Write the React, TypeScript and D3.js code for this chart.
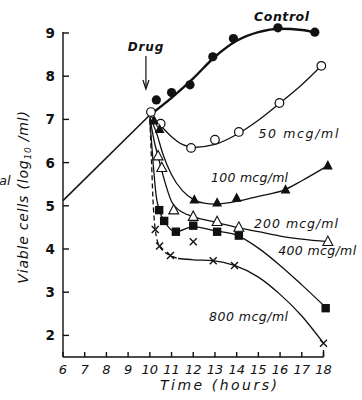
import * as d3 from "d3";
import React from "react";

// hours on x axis, log10 viable cells on y axis
const hourTicks = d3.range(6, 19);
const cellTicks = [2, 3, 4, 5, 6, 7, 8, 9];

// growth before drug
const growthLine: [number, number][] = [[6, 5.12], [10, 7.1]];

// smooth curves (as drawn in the figure)
const controlCurve: [number, number][] = [[10, 7.1], [11, 7.5], [12, 7.95], [13, 8.45], [14, 8.82], [15, 9.02], [16, 9.1], [17, 9.07], [17.6, 9.02]];
const curve50: [number, number][] = [[10, 7.1], [10.3, 6.95], [10.6, 6.8], [11, 6.6], [11.5, 6.42], [12, 6.35], [13, 6.42], [14, 6.65], [15, 6.98], [16, 7.38], [17, 7.8], [17.9, 8.24]];
const curve100: [number, number][] = [[10, 7.05], [10.3, 6.7], [10.6, 6.2], [11, 5.72], [11.5, 5.35], [12, 5.15], [12.5, 5.06], [13, 5.04], [14, 5.1], [15, 5.22], [16.2, 5.37], [17, 5.58], [18.2, 5.93]];
const curve200: [number, number][] = [[10, 7.05], [10.2, 6.5], [10.4, 6.1], [10.6, 5.72], [11, 5.1], [11.5, 4.85], [12, 4.75], [13, 4.62], [14, 4.5], [15, 4.4], [16, 4.3], [17, 4.23], [18.2, 4.17]];
const curve400: [number, number][] = [[10, 7.0], [10.15, 6.0], [10.3, 5.2], [10.45, 4.88], [10.7, 4.62], [11.2, 4.4], [12, 4.52], [13, 4.42], [14, 4.32], [15, 4.02], [16, 3.62], [17, 3.17], [18.1, 2.65]];
const curve800a: [number, number][] = [[10, 7.0], [10.08, 6.0], [10.14, 5.2], [10.25, 4.45], [10.45, 4.06], [10.95, 3.85], [11.3, 3.78]];
const curve800b: [number, number][] = [[11.3, 3.78], [12, 3.75], [12.9, 3.73], [13.9, 3.62], [15, 3.35], [16, 2.95], [17, 2.45], [18, 1.82]];

// measured points
const controlPts: [number, number][] = [[10.3, 7.45], [11, 7.62], [11.85, 7.8], [12.9, 8.45], [13.85, 8.87], [15.9, 9.12], [17.6, 9.02]];
const pts50: [number, number][] = [[10.05, 7.17], [10.5, 6.9], [11.9, 6.34], [13.0, 6.53], [14.1, 6.71], [15.97, 7.38], [17.9, 8.24]];
const pts100: [number, number][] = [[10.2, 6.97], [10.45, 6.77], [12.05, 5.14], [13.1, 5.07], [14.0, 5.18], [16.25, 5.37], [18.2, 5.93]];
const pts200: [number, number][] = [[10.38, 6.15], [10.55, 5.88], [11.1, 4.9], [12.0, 4.75], [13.1, 4.63], [14.1, 4.5], [18.2, 4.17]];
const pts400: [number, number][] = [[10.43, 4.9], [10.66, 4.65], [11.2, 4.4], [12.0, 4.54], [13.1, 4.4], [14.1, 4.31], [18.1, 2.63]];
const pts800: [number, number][] = [[10.25, 4.45], [10.45, 4.07], [10.95, 3.85], [12.0, 4.17], [12.92, 3.73], [13.9, 3.62], [18.0, 1.82]];

const curveLabels = [
  { text: "Control", h: 14.8, v: 9.28, bold: true, len: 55 },
  { text: "50 mcg/ml", h: 15.0, v: 6.57, bold: false, len: 80 },
  { text: "100 mcg/ml", h: 12.82, v: 5.55, bold: false, len: 77 },
  { text: "200 mcg/ml", h: 14.8, v: 4.49, bold: false, len: 84 },
  { text: "400 mcg/ml", h: 15.91, v: 3.85, bold: false, len: 78 },
  { text: "800 mcg/ml", h: 12.73, v: 2.34, bold: false, len: 79 },
];

const W = 362;
const H = 400;

export default function App() {
  const x = d3.scaleLinear().domain([6, 18]).range([63, 323.5]);
  const y = d3.scaleLinear().domain([1.5, 9]).range([357, 33]);
  const line = d3.line<[number, number]>().x((d) => x(d[0])).y((d) => y(d[1])).curve(d3.curveMonotoneX);
  const straight = d3.line<[number, number]>().x((d) => x(d[0])).y((d) => y(d[1]));

  const font = "'DejaVu Sans', 'Liberation Sans', sans-serif";
  const tri = (cx: number, cy: number, s: number) =>
    `M${cx},${cy - s * 0.62} L${cx + s * 0.55},${cy + s * 0.42} L${cx - s * 0.55},${cy + s * 0.42} Z`;
  const drugX = x(9.82);

  return (
    <svg width={W} height={H} style={{ position: "absolute", left: 0, top: 0, background: "#fff" }}>
      {/* axes */}
      <g stroke="#111" strokeWidth={1.4} fill="none">
        <line x1={x(6)} x2={x(6)} y1={y(9) - 1} y2={y(1.5)} />
        <line x1={x(6)} x2={x(18)} y1={y(1.5)} y2={y(1.5)} />
        <line x1={x(18)} x2={x(18)} y1={y(1.5)} y2={y(1.5) - 7} />
        {cellTicks.map((t) => (
          <line key={t} x1={x(6)} x2={x(6) + 6} y1={y(t)} y2={y(t)} />
        ))}
        {hourTicks.map((t) => (
          <line key={t} x1={x(t)} x2={x(t)} y1={y(1.5)} y2={y(1.5) - 5} />
        ))}
      </g>
      <g fontFamily={font} fontWeight="bold" fontSize={13.5} fill="#111" textAnchor="end">
        {cellTicks.map((t) => (
          <text key={t} x={x(6) - 8} y={y(t) + 5}>{t}</text>
        ))}
      </g>
      <g fontFamily={font} fontStyle="italic" fontSize={13} fill="#111" textAnchor="middle">
        {hourTicks.map((t) => (
          <text key={t} x={x(t)} y={y(1.5) + 17}>{t}</text>
        ))}
      </g>
      <text x={160} y={390} fontFamily={font} fontStyle="italic" fontSize={14} textLength={117} lengthAdjust="spacing" fill="#111">
        Time (hours)
      </text>
      <text transform={`translate(28,197) rotate(-90)`} fontFamily={font} fontStyle="italic" fontSize={14} letterSpacing={0.8} textAnchor="middle" fill="#111">
        Viable cells (log<tspan fontSize={9} dy={3}>10</tspan><tspan dy={-3}> /ml)</tspan>
      </text>
      <text x={-1} y={185} fontFamily={font} fontStyle="italic" fontSize={13} fill="#111">al</text>

      {/* Drug arrow */}
      <text x={drugX} y={51} fontFamily={font} fontStyle="italic" fontWeight="bold" fontSize={12} letterSpacing={0.8} textAnchor="middle" fill="#111">Drug</text>
      <line x1={drugX} x2={drugX} y1={56} y2={88} stroke="#111" strokeWidth={1.2} />
      <path d={`M${drugX - 3},80 L${drugX},89 L${drugX + 3},80`} stroke="#111" strokeWidth={1.2} fill="none" />

      {/* curves */}
      <g fill="none" stroke="#111">
        <path d={straight(growthLine) ?? ""} strokeWidth={1.5} />
        <path d={line(controlCurve) ?? ""} strokeWidth={2.4} />
        <path d={line(curve50) ?? ""} strokeWidth={1.3} />
        <path d={line(curve100) ?? ""} strokeWidth={1.3} />
        <path d={line(curve200) ?? ""} strokeWidth={1.3} />
        <path d={line(curve400) ?? ""} strokeWidth={1.3} />
        <path d={line(curve800a) ?? ""} strokeWidth={1.3} strokeDasharray="5,3" />
        <path d={line(curve800b) ?? ""} strokeWidth={1.3} />
      </g>

      {/* markers */}
      {controlPts.map((d, i) => (
        <circle key={"c" + i} cx={x(d[0])} cy={y(d[1])} r={4.6} fill="#111" />
      ))}
      {pts50.map((d, i) => (
        <circle key={"o" + i} cx={x(d[0])} cy={y(d[1])} r={4.3} fill="#fff" stroke="#111" strokeWidth={1.2} />
      ))}
      {pts100.map((d, i) => (
        <path key={"t" + i} d={tri(x(d[0]), y(d[1]), 9)} fill="#111" />
      ))}
      {pts200.map((d, i) => (
        <path key={"ot" + i} d={tri(x(d[0]), y(d[1]), 9)} fill="#fff" stroke="#111" strokeWidth={1.1} />
      ))}
      {pts400.map((d, i) => (
        <rect key={"s" + i} x={x(d[0]) - 4.2} y={y(d[1]) - 4.2} width={8.4} height={8.4} fill="#111" />
      ))}
      {pts800.map((d, i) => (
        <path key={"x" + i} d={`M${x(d[0]) - 3.5},${y(d[1]) - 3.5} L${x(d[0]) + 3.5},${y(d[1]) + 3.5} M${x(d[0]) - 3.5},${y(d[1]) + 3.5} L${x(d[0]) + 3.5},${y(d[1]) - 3.5}`} stroke="#111" strokeWidth={1.4} />
      ))}

      {/* curve labels */}
      {curveLabels.map((l) => (
        <text key={l.text} x={x(l.h)} y={y(l.v)} fontFamily={font} fontStyle="italic" fontWeight={l.bold ? "bold" : "normal"} fontSize={12.5} textLength={l.len} lengthAdjust="spacing" fill="#111">
          {l.text}
        </text>
      ))}
    </svg>
  );
}
